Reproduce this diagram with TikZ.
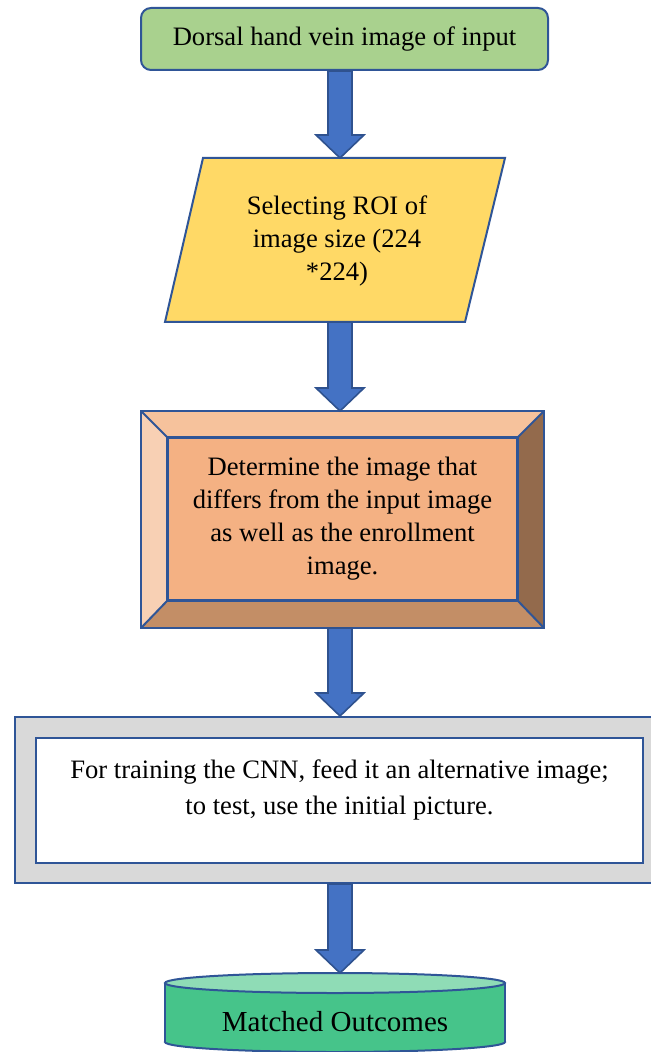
\documentclass[tikz,border=0pt]{standalone}
\usepackage{fontspec}
\setmainfont{Liberation Serif}
\usepackage{tikz}
\usetikzlibrary{calc}
\usepackage{xcolor}
\definecolor{veinblue}{HTML}{2F5597}
\definecolor{arrowblue}{HTML}{4472C4}
\definecolor{arrowedge}{HTML}{2F528F}
\definecolor{inputgreen}{HTML}{A9D18E}
\definecolor{roiyellow}{HTML}{FFD966}
\definecolor{bevelmid}{HTML}{F4B183}
\definecolor{beveltop}{HTML}{F6C29C}
\definecolor{bevelleft}{HTML}{F8D0B4}
\definecolor{bevelright}{HTML}{936A4C}
\definecolor{bevelbot}{HTML}{C38E66}
\definecolor{framegray}{HTML}{D9D9D9}
\definecolor{cylgreen}{HTML}{46C48A}
\definecolor{cyltop}{HTML}{8FDCB6}
\tikzset{
	box/.style={draw=veinblue, line width=1pt},
	blockarrow/.style={draw=arrowedge, fill=arrowblue, line width=0.8pt},
	txt/.style={align=center, inner sep=0pt, font=\fontsize{13.3}{16.5}\selectfont}
}
\newcommand{\blockarrow}[2]{%
	\draw[blockarrow] ($(spine |- #1)+(-12,0)$) -- ($(spine |- #2)+(-12,-23)$) -- ($(spine |- #2)+(-24,-23)$) -- (spine |- #2) -- ($(spine |- #2)+(24,-23)$) -- ($(spine |- #2)+(12,-23)$) -- ($(spine |- #1)+(12,0)$) -- cycle;%
}

\begin{document}
\begin{tikzpicture}[x=0.5pt, y=-0.5pt]
	\useasboundingbox (0,0) rectangle (651,1052);
	\coordinate (spine) at (340,0);
	
	\node[box, fill=inputgreen, rounded corners=5pt, minimum width=203.5pt, minimum height=31pt, txt] (input) at (344.5,39) {Dorsal hand vein image of input};
	
	\draw[box, fill=roiyellow] (203,158) -- (505,158) -- (465,322) -- (165,322) -- cycle;
	\coordinate (roi-n) at (354,158);
	\coordinate (roi-s) at (315,322);
	\node[txt] (roi) at (337,241) {Selecting ROI of\\image size (224\\*224)};
	
	\node[box, fill=bevelmid, minimum width=174.5pt, minimum height=81pt, txt] (diff) at (342.5,519) {Determine the image that\\differs from the input image\\as well as the enrollment\\image.};
	\coordinate (diff-nw) at ($(diff.north west)+(-26,-26)$);
	\coordinate (diff-ne) at ($(diff.north east)+(26,-26)$);
	\coordinate (diff-sw) at ($(diff.south west)+(-26,27)$);
	\coordinate (diff-se) at ($(diff.south east)+(26,27)$);
	\coordinate (diff-n) at ($(diff.north)+(0,-26)$);
	\coordinate (diff-s) at ($(diff.south)+(0,27)$);
	\fill[beveltop] (diff-nw) -- (diff-ne) -- (diff.north east) -- (diff.north west) -- cycle;
	\fill[bevelleft] (diff-nw) -- (diff.north west) -- (diff.south west) -- (diff-sw) -- cycle;
	\fill[bevelright] (diff-ne) -- (diff-se) -- (diff.south east) -- (diff.north east) -- cycle;
	\fill[bevelbot] (diff-sw) -- (diff-se) -- (diff.south east) -- (diff.south west) -- cycle;
	\draw[box] (diff-nw) rectangle (diff-se);
	\draw[box] (diff.north west) rectangle (diff.south east);
	\draw[box] (diff-nw) -- (diff.north west) (diff-ne) -- (diff.north east) (diff-sw) -- (diff.south west) (diff-se) -- (diff.south east);
	
	\node[box, fill=framegray, minimum width=324.5pt, minimum height=83pt] (frame) at (339.5,800) {};
	\node[box, fill=white, minimum width=303.5pt, minimum height=62.5pt] (cnnbox) at (339.5,800.5) {};
	\node[txt, font=\fontsize{13.3}{18}\selectfont] (cnn) at (339.5,790) {For training the CNN, feed it an alternative image;\\to test, use the initial picture.};
	
	\draw[box, fill=cylgreen] (335,1042) ellipse [x radius=170, y radius=10];
	\fill[cylgreen] (165,983) rectangle (505,1042);
	\draw[box] (165,983) -- (165,1042) (505,983) -- (505,1042);
	\draw[box, fill=cyltop] (335,983) ellipse [x radius=170, y radius=10];
	\coordinate (match-n) at (335,973);
	\node[txt, font=\fontsize{14.5}{17}\selectfont] (match) at (335,1022) {Matched Outcomes};
	
	\blockarrow{input.south}{roi-n}
	\blockarrow{roi-s}{diff-n}
	\blockarrow{diff-s}{frame.north}
	\blockarrow{frame.south}{match-n}
\end{tikzpicture}
\end{document}
